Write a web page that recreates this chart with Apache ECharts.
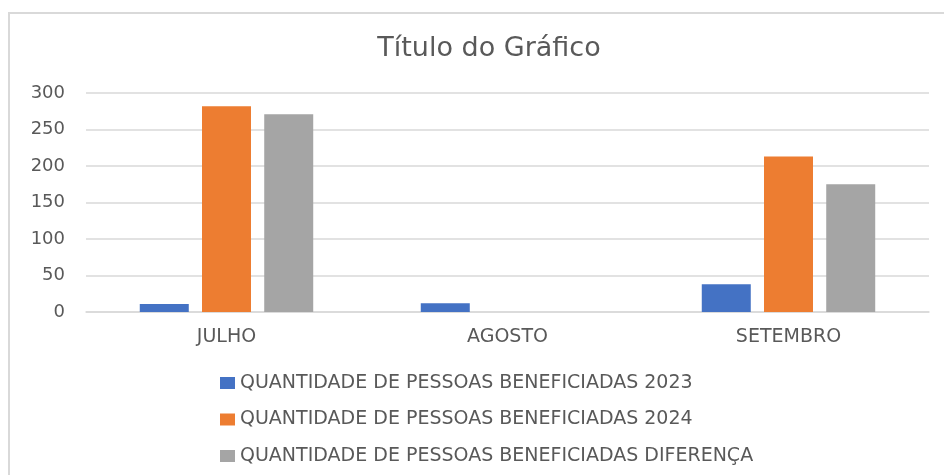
<!DOCTYPE html>
<html>
<head>
<meta charset="utf-8">
<script src="https://cdn.jsdelivr.net/npm/echarts@6/dist/echarts.min.js"></script>
<style>
  html, body { margin: 0; padding: 0; background: #fff; }
  #chart { width: 944px; height: 475px; }
</style>
</head>
<body>
<div id="chart"></div>
<script>
// dados do gráfico
const meses = ["JULHO", "AGOSTO", "SETEMBRO"];
const valores2023 = [11, 12, 38];
const valores2024 = [282, 0, 213];
const valoresDiferenca = [271, 0, 175];
const nomesSeries = [
  "QUANTIDADE DE PESSOAS BENEFICIADAS 2023",
  "QUANTIDADE DE PESSOAS BENEFICIADAS 2024",
  "QUANTIDADE DE PESSOAS BENEFICIADAS DIFERENÇA",
];
const cores = ["#4472C4", "#ED7D31", "#A5A5A5"];

const myChart = echarts.init(document.getElementById("chart"));
const fonte = "'DejaVu Sans', sans-serif";

const barra = (i, dados) => ({
  name: nomesSeries[i],
  type: "bar",
  data: dados,
  barWidth: 49,
  barGap: "27%",
  itemStyle: { color: cores[i] },
});

myChart.setOption({
  animation: false,
  textStyle: { fontFamily: fonte },
  graphic: [
    {
      type: "rect",
      shape: { x: 9, y: 13, width: 960, height: 500 },
      style: { fill: "none", stroke: "#d9d9d9", lineWidth: 2 },
      silent: true,
    },
  ],
  title: {
    text: "Título do Gráfico",
    left: 484,
    textAlign: "center",
    top: 30,
    textStyle: {
      fontFamily: fonte,
      fontSize: 27,
      fontWeight: "normal",
      color: "#595959",
    },
  },
  grid: { left: 86, right: 15, top: 93, height: 219, containLabel: false },
  legend: {
    orient: "vertical",
    left: 215,
    top: 368,
    itemGap: 16.5,
    itemWidth: 15,
    itemHeight: 12,
    icon: "rect",
    textStyle: {
      fontSize: 19,
      lineHeight: 20,
      color: "#595959",
      fontFamily: fonte,
      padding: [0, 0, 0, 0],
    },
    data: nomesSeries,
  },
  xAxis: {
    type: "category",
    data: meses,
    axisLine: { lineStyle: { color: "#d9d9d9", width: 1.5 } },
    axisTick: { show: false },
    axisLabel: { color: "#595959", fontSize: 19, margin: 16 },
  },
  yAxis: {
    type: "value",
    min: 0,
    max: 300,
    interval: 50,
    axisLine: { show: false },
    axisTick: { show: false },
    splitLine: { lineStyle: { color: "#d9d9d9", width: 1.5 } },
    axisLabel: { color: "#595959", fontSize: 18, margin: 21 },
  },
  series: [
    barra(0, valores2023),
    barra(1, valores2024),
    barra(2, valoresDiferenca),
  ],
});
window.addEventListener("resize", function () {
  myChart.resize();
});
</script>
</body>
</html>
